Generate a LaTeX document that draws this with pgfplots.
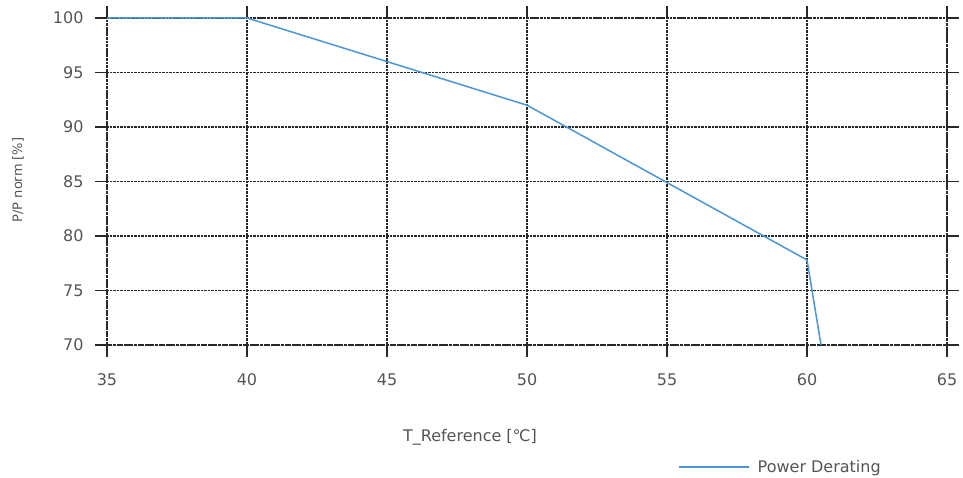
\documentclass[border=0pt]{standalone}
\usepackage{fontspec}
\setmainfont{DejaVu Sans}
\usepackage{pgfplots}
\pgfplotsset{compat=1.18}
\definecolor{txt}{RGB}{85,85,85}
\definecolor{pline}{RGB}{75,150,215}
\definecolor{gridc}{RGB}{40,40,40}
\begin{document}
\begin{tikzpicture}
\path[use as bounding box] (0,0) rectangle (963pt,477pt);
\begin{axis}[
  at={(107pt,132pt)}, anchor=south west,
  scale only axis, width=840pt, height=327pt,
  xmin=35, xmax=65, ymin=70, ymax=100,
  xtick={35,40,...,65}, ytick={70,75,...,100},
  grid=major,
  major grid style={gridc, densely dotted, line width=1.1pt},
  axis line style={gridc, densely dotted, line width=1.1pt},
  tick align=outside, major tick length=12pt,
  tick style={gridc, line width=1.1pt},
  ticklabel style={font=\fontsize{16}{18}\selectfont, text=txt},
  xticklabel style={yshift=-13pt},
  yticklabel style={xshift=-8pt},
  /pgf/number format/assume math mode=true,
  legend style={draw=none, fill=none, at={(axis description cs:0.680,-0.373)}, anchor=west,
    font=\fontsize{16}{18}\selectfont, text=txt, inner sep=0pt},
  legend image code/.code={\draw[#1, line width=1.1pt] (0pt,0pt) -- (70pt,0pt); \path (76pt,0pt);},
]
\addplot[pline, line width=1.5pt] coordinates {(35,100) (40,100) (46.5,94.8) (50,92) (55,84.9) (60,77.8) (60.5,70)};
\addlegendentry{Power Derating}
\end{axis}
\node[text=txt, font=\fontsize{16}{18}\selectfont] at (470pt,40pt) {T\_Reference [℃]};
\node[text=txt, font=\fontsize{13}{15}\selectfont, rotate=90] at (18pt,297pt) {P/P norm [\%]};
\end{tikzpicture}
\end{document}
